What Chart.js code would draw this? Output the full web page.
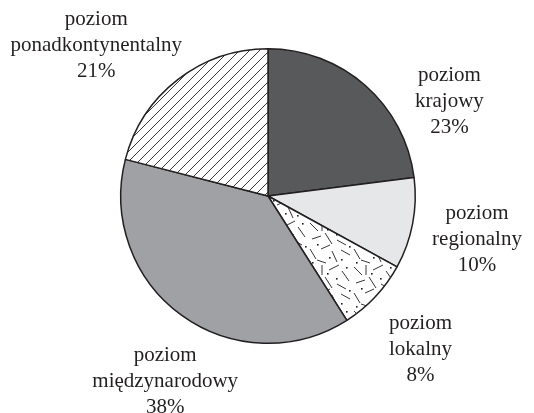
<!DOCTYPE html>
<html>
<head>
<meta charset="utf-8">
<script src="https://cdn.jsdelivr.net/npm/chart.js@4"></script>
<style>
  body { margin: 0; background: #fff; }
  canvas { display: block; }
</style>
</head>
<body>
<canvas id="pie" width="534" height="413"></canvas>
<script>
// data
const categories = ["poziom krajowy", "poziom regionalny", "poziom lokalny", "poziom międzynarodowy", "poziom ponadkontynentalny"];
const shares = [23, 10, 8, 38, 21];
const labelLines = [
  ["poziom", "krajowy"],
  ["poziom", "regionalny"],
  ["poziom", "lokalny"],
  ["poziom", "międzynarodowy"],
  ["poziom", "ponadkontynentalny"]
];

// --- fills ---
function hatchPattern() {
  const c = document.createElement("canvas");
  c.width = 10; c.height = 10;
  const g = c.getContext("2d");
  g.fillStyle = "#fff";
  g.fillRect(0, 0, 10, 10);
  g.strokeStyle = "#231f20";
  g.lineWidth = 0.9;
  g.beginPath();
  g.moveTo(-1, 11); g.lineTo(11, -1);
  g.moveTo(-1, 1); g.lineTo(1, -1);
  g.moveTo(9, 11); g.lineTo(11, 9);
  g.stroke();
  return g.createPattern(c, "repeat");
}

function dashPattern() {
  const c = document.createElement("canvas");
  c.width = 44; c.height = 44;
  const g = c.getContext("2d");
  g.fillStyle = "#fff";
  g.fillRect(0, 0, 44, 44);
  g.strokeStyle = "#231f20";
  g.lineWidth = 0.9;
  const segs = [
    [2, 3, 10, 11], [14, 1, 14, 11], [21, 6, 31, 1], [34, 7, 41, 17],
    [4, 19, 13, 16], [17, 13, 24, 24], [29, 20, 38, 25], [2, 29, 8, 39],
    [13, 29, 22, 25], [24, 31, 29, 42], [33, 30, 42, 35], [9, 40, 18, 43]
  ];
  g.beginPath();
  segs.forEach(s => { g.moveTo(s[0], s[1]); g.lineTo(s[2], s[3]); });
  g.stroke();
  g.fillStyle = "#231f20";
  [[19, 9], [38, 3], [9, 24], [28, 14], [33, 39], [4, 42], [21, 37], [41, 26]].forEach(p => {
    g.fillRect(p[0], p[1], 1.6, 1.6);
  });
  return g.createPattern(c, "repeat");
}

// --- labels around the pie ---
const outsideLabels = {
  id: "outsideLabels",
  afterDatasetsDraw(chart, args, opts) {
    const { ctx } = chart;
    const meta = chart.getDatasetMeta(0);
    ctx.save();
    ctx.font = opts.font;
    ctx.fillStyle = opts.color;
    ctx.textAlign = "center";
    ctx.textBaseline = "middle";
    meta.data.forEach((arc, i) => {
      const p = opts.place[i];
      const mid = (arc.startAngle + arc.endAngle) / 2 + p.turn * Math.PI / 180;
      const dist = arc.outerRadius * p.reach;
      const x = arc.x + Math.cos(mid) * dist;
      const y = arc.y + Math.sin(mid) * dist;
      const lines = labelLines[i].concat([shares[i] + "%"]);
      lines.forEach((t, k) => {
        ctx.fillText(t, x, y + (k - 1) * opts.lineHeight);
      });
    });
    ctx.restore();
  }
};

new Chart(document.getElementById("pie"), {
  type: "pie",
  data: {
    labels: categories,
    datasets: [{
      data: shares,
      backgroundColor: ["#58595b", "#e6e7e8", dashPattern(), "#a0a1a4", hatchPattern()],
      borderColor: "#231f20",
      borderWidth: 1.5
    }]
  },
  options: {
    responsive: false,
    animation: false,
    layout: { padding: { top: 48, bottom: 69, left: 120, right: 118 } },
    plugins: {
      legend: { display: false },
      tooltip: { enabled: false },
      outsideLabels: {
        font: "21px 'Liberation Serif', 'Times New Roman', serif",
        color: "#231f20",
        lineHeight: 26,
        place: [
          { turn: 21, reach: 1.39 },
          { turn: 1, reach: 1.45 },
          { turn: 2, reach: 1.47 },
          { turn: -7, reach: 1.44 },
          { turn: -11, reach: 1.55 }
        ]
      }
    }
  },
  plugins: [outsideLabels]
});
</script>
</body>
</html>
